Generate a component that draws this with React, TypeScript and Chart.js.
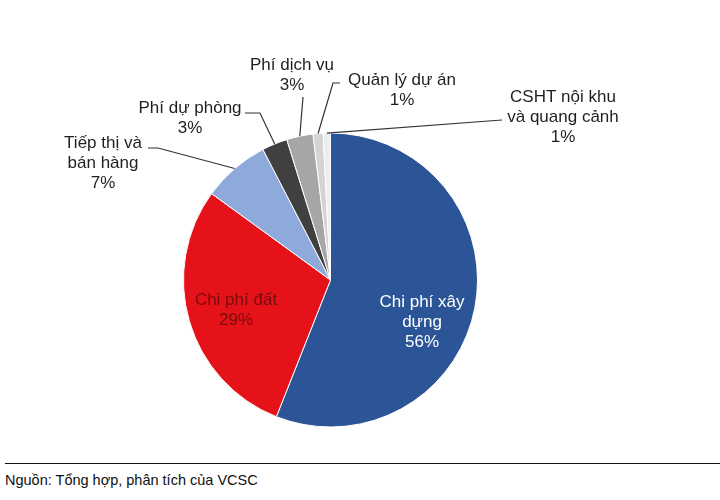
import { useEffect, useRef } from "react";
import { Chart, registerables, Plugin } from "chart.js";

Chart.register(...registerables);

// categories (already wrapped the way the labels print)
const categories: string[][] = [
  ["Chi phí xây", "dựng"],
  ["Chi phí đất"],
  ["Tiếp thị và", "bán hàng"],
  ["Phí dự phòng"],
  ["Phí dịch vụ"],
  ["Quản lý dự án"],
  ["CSHT nội khu", "và quang cảnh"],
];
// share of total cost, %
const shares = [56, 29, 7.4, 2.8, 2.9, 1.1, 0.8];
const colors = ["#2b5596", "#e5121a", "#8eaadb", "#404040", "#a6a6a6", "#d4d4d4", "#e9edf4"];

const FONT = '"Liberation Sans", Arial, sans-serif';

// where each label block sits (centre x, first line y) and the elbow of its leader line
const labelLayout: { x: number; y: number; color?: string; inside?: boolean; line?: number[][] }[] = [
  { x: 422, y: 302, color: "#ffffff", inside: true },
  { x: 236, y: 300, color: "#7a0c0c", inside: true },
  { x: 103, y: 143, line: [[148, 148], [158, 148]] },
  { x: 190, y: 108, line: [[245, 113], [260, 113]] },
  { x: 292, y: 65, line: [[303, 97]] },
  { x: 402, y: 80, line: [[340, 83], [333, 83]] },
  { x: 563, y: 97, line: [[502, 120]] },
];

const pieLabels: Plugin<"pie"> = {
  id: "pieLabels",
  afterDatasetsDraw(chart) {
    const ctx = chart.ctx;
    const arcs = chart.getDatasetMeta(0).data;
    ctx.save();
    arcs.forEach((arc, i) => {
      const cfg = labelLayout[i];
      if (!cfg) return;
      const p = arc.getProps(["x", "y", "startAngle", "endAngle", "outerRadius"], true) as any;
      const mid = (p.startAngle + p.endAngle) / 2;
      if (cfg.line) {
        ctx.strokeStyle = "#333333";
        ctx.lineWidth = 1.2;
        ctx.beginPath();
        ctx.moveTo(cfg.line[0][0], cfg.line[0][1]);
        cfg.line.slice(1).forEach((pt) => ctx.lineTo(pt[0], pt[1]));
        ctx.lineTo(p.x + Math.cos(mid) * p.outerRadius, p.y + Math.sin(mid) * p.outerRadius);
        ctx.stroke();
      }
      const lines = [...categories[i], Math.round(shares[i]) + "%"];
      ctx.fillStyle = cfg.color ?? "#1f1f1f";
      ctx.font = `17px ${FONT}`;
      ctx.textAlign = "center";
      ctx.textBaseline = "middle";
      lines.forEach((t, k) => ctx.fillText(t, cfg.x, cfg.y + k * 20));
    });
    ctx.restore();
  },
};

const PieChart = () => {
  const chartRef = useRef<HTMLCanvasElement>(null);
  const chartInstanceRef = useRef<Chart<"pie"> | null>(null);

  useEffect(() => {
    if (!chartRef.current) return;
    if (chartInstanceRef.current) chartInstanceRef.current.destroy();

    chartInstanceRef.current = new Chart(chartRef.current, {
      type: "pie",
      data: {
        labels: categories,
        datasets: [
          {
            data: shares,
            backgroundColor: colors,
            borderColor: "#ffffff",
            borderWidth: 1,
          },
        ],
      },
      options: {
        responsive: false,
        animation: false,
        layout: { padding: { left: 183, right: 242, top: 132, bottom: 32 } },
        plugins: {
          legend: { display: false },
          tooltip: { enabled: false },
        },
      },
      plugins: [pieLabels],
    });

    return () => {
      if (chartInstanceRef.current) {
        chartInstanceRef.current.destroy();
        chartInstanceRef.current = null;
      }
    };
  }, []);

  return (
    <div style={{ position: "fixed", left: 0, top: 0, width: 720, height: 500, background: "#fff", fontFamily: FONT }}>
      <canvas ref={chartRef} width={720} height={460} style={{ display: "block" }}></canvas>
      <div style={{ position: "absolute", left: 5, right: 0, top: 463, borderTop: "1.5px solid #111" }} />
      <div style={{ position: "absolute", left: 5, top: 470, fontSize: 14.5, color: "#111", lineHeight: "20px" }}>
        Nguồn: Tổng hợp, phân tích của VCSC
      </div>
    </div>
  );
};

export default function App() {
  return <PieChart />;
}
